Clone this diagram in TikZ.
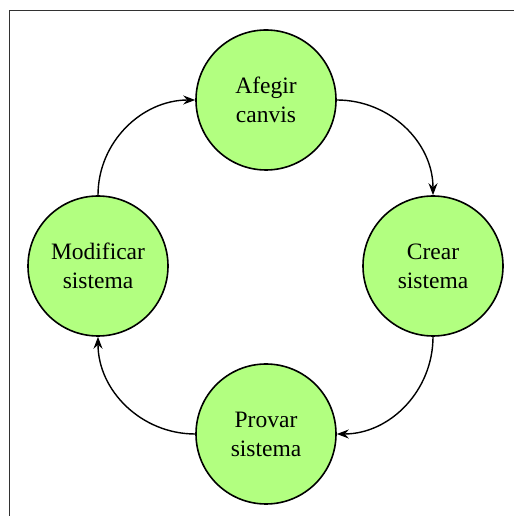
\documentclass[tikz,border=0pt]{standalone}
\usepackage{fontspec}
\setmainfont{Liberation Serif}
\usetikzlibrary{arrows.meta}
\definecolor{stagefill}{RGB}{178,255,128}
\definecolor{framegray}{RGB}{50,50,50}
\begin{document}
\begin{tikzpicture}[x=1pt,y=1pt,
  stage/.style={circle, draw=black, line width=1.6pt, fill=stagefill,
    minimum size=140pt, inner sep=0pt, align=center,
    font=\fontsize{23.5}{29}\selectfont},
  flow/.style={line width=1.4pt, -{Stealth[length=12pt,width=9pt,inset=4pt]}}]
  \useasboundingbox (0,0) rectangle (514,516);
  % frame on the top and left sides
  \draw[framegray, line width=0.9pt] (9,0) -- (9,506) -- (514,506);
  % the four stages
  \node[stage] (afegir) at (266,416) {Afegir\\canvis};
  \node[stage] (crear) at (433,250) {Crear\\sistema};
  \node[stage] (provar) at (266,82) {Provar\\sistema};
  \node[stage] (modif) at (98,250) {Modificar\\sistema};
  % the cycle
  \draw[flow] (afegir.east) to[out=0,in=90] (crear.north);
  \draw[flow] (crear.south) to[out=-90,in=0] (provar.east);
  \draw[flow] (provar.west) to[out=180,in=-90] (modif.south);
  \draw[flow] (modif.north) to[out=90,in=180] (afegir.west);
\end{tikzpicture}
\end{document}
